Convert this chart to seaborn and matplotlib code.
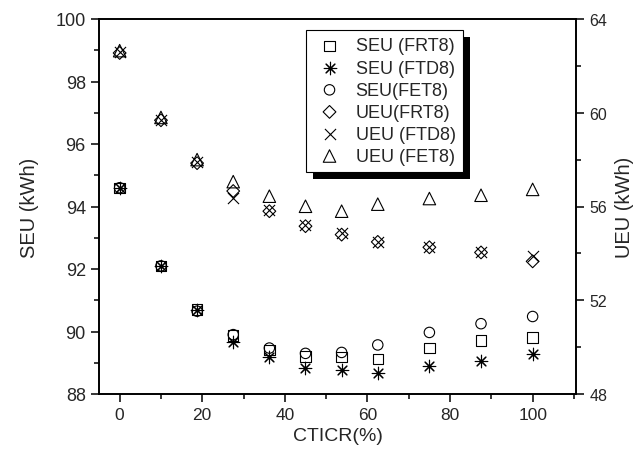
import matplotlib
matplotlib.use("Agg")
import matplotlib.pyplot as plt
import seaborn as sns
import pandas as pd
from matplotlib.patches import Rectangle
from matplotlib.ticker import MultipleLocator

sns.set_style("ticks")
plt.rcParams['font.family'] = ['Liberation Sans', 'DejaVu Sans']

ctcir = [0, 10, 18.75, 27.5, 36.25, 45, 53.75, 62.5, 75, 87.5, 100]
seu_frt8 = [94.6, 92.1, 90.7, 89.87, 89.41, 89.2, 89.18, 89.12, 89.47, 89.71, 89.81]
seu_ftd8 = [94.6, 92.1, 90.7, 89.66, 89.2, 88.83, 88.77, 88.67, 88.9, 89.07, 89.28]
seu_fet8 = [94.6, 92.1, 90.65, 89.9, 89.47, 89.3, 89.33, 89.57, 89.97, 90.25, 90.48]
ueu_frt8 = [62.55, 59.68, 57.85, 56.66, 55.8, 55.16, 54.8, 54.49, 54.26, 54.04, 53.66]
ueu_ftd8 = [62.6, 59.7, 57.9, 56.37, 55.85, 55.2, 54.85, 54.5, 54.28, 54.06, 53.87]
ueu_fet8 = [62.65, 59.8, 58.0, 57.06, 56.44, 56.01, 55.8, 56.1, 56.34, 56.48, 56.73]

labels = ["SEU (FRT8)", "SEU (FTD8)", "SEU(FET8)", "UEU(FRT8)", "UEU (FTD8)", "UEU (FET8)"]

fig = plt.figure(figsize=(6.38, 4.6), dpi=100)
ax = fig.add_axes([99/638, 65/460, 477/638, 375/460])
ax2 = ax.twinx()

def draw(axis, yvals, marker, size, label, filled):
    df = pd.DataFrame({"x": ctcir, "y": yvals})
    if filled:
        sns.scatterplot(data=df, x="x", y="y", ax=axis, marker=marker, s=size**2,
                        facecolor="none", edgecolor="black", linewidth=0.8, label=label, zorder=3)
    else:
        sns.scatterplot(data=df, x="x", y="y", ax=axis, marker=marker, s=size**2,
                        color="black", linewidth=0.8, label=label, zorder=3)

draw(ax, seu_frt8, "s", 7.5, labels[0], True)
draw(ax, seu_ftd8, (8, 2, 0), 9, labels[1], False)
draw(ax, seu_fet8, "o", 7.5, labels[2], True)
draw(ax2, ueu_frt8, "D", 6.5, labels[3], True)
draw(ax2, ueu_ftd8, "x", 8, labels[4], False)
draw(ax2, ueu_fet8, "^", 9, labels[5], True)

for a in (ax, ax2):
    lg = a.get_legend()
    if lg is not None:
        lg.remove()

ax.set_xlim(-5, 110.5)
ax.set_ylim(88, 100)
ax2.set_ylim(48, 64)

ax.xaxis.set_major_locator(MultipleLocator(20))
ax.xaxis.set_minor_locator(MultipleLocator(10))
ax.yaxis.set_major_locator(MultipleLocator(2))
ax.yaxis.set_minor_locator(MultipleLocator(1))
ax2.yaxis.set_major_locator(MultipleLocator(4))
ax2.yaxis.set_minor_locator(MultipleLocator(2))

for sp in ax.spines.values():
    sp.set_linewidth(1.2)
    sp.set_color("black")
for sp in ax2.spines.values():
    sp.set_linewidth(1.2)
    sp.set_color("black")

ax.tick_params(axis="x", which="both", bottom=True, top=False, direction="out",
               labelsize=12.5, width=1.1, color="black")
ax.tick_params(axis="x", which="major", length=6)
ax.tick_params(axis="x", which="minor", length=3.5)
ax.tick_params(axis="y", which="both", left=True, right=False, direction="out",
               labelsize=13, width=1.1, color="black")
ax.tick_params(axis="y", which="major", length=6)
ax.tick_params(axis="y", which="minor", length=3.5)

ax2.tick_params(axis="x", which="both", top=True, bottom=False, labeltop=False,
                labelbottom=False, direction="in", width=1.1, color="black")
ax2.tick_params(axis="x", which="major", length=5)
ax2.tick_params(axis="x", which="minor", length=3.5)
ax2.tick_params(axis="y", which="both", right=True, left=False, direction="out",
                labelsize=11.5, width=1.1, color="black")
ax2.tick_params(axis="y", which="major", length=6)
ax2.tick_params(axis="y", which="minor", length=3.5)

ax.set_xlabel("CTICR(%)", fontsize=14)
ax.set_ylabel("SEU (kWh)", fontsize=14.5)
ax2.set_ylabel("UEU (kWh)", fontsize=14.5)
ax.xaxis.set_label_coords(0.5, -0.088)
ax.yaxis.set_label_coords(-0.125, 0.5)
ax2.yaxis.set_label_coords(1.082, 0.5)

h1, l1 = ax.get_legend_handles_labels()
h2, l2 = ax2.get_legend_handles_labels()
leg = ax2.legend(h1 + h2, l1 + l2, loc="upper left", bbox_to_anchor=(0.435, 0.97),
                 fontsize=13, frameon=True, fancybox=False, framealpha=1,
                 edgecolor="black", borderpad=0.4, labelspacing=0.28,
                 handlelength=1.75, handletextpad=0.57, borderaxespad=0)
leg.get_frame().set_linewidth(0.8)
leg.set_zorder(10)

fig.canvas.draw()
bb = leg.get_frame().get_window_extent()
shadow = Rectangle((bb.x0 + 7, bb.y0 - 7), bb.width, bb.height, transform=None,
                   facecolor="black", edgecolor="none", zorder=9, clip_on=False)
ax2.add_artist(shadow)

fig.savefig("out.png", dpi=100)
